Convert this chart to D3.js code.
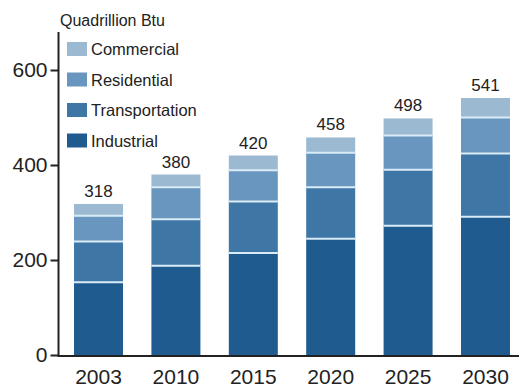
<!DOCTYPE html>
<html lang="en">
<head>
<meta charset="UTF-8">
<title>World energy consumption by sector</title>
<script src="https://d3js.org/d3.v7.min.js"></script>
<style>
  html, body { margin: 0; padding: 0; background: #fff; }
  svg { display: block; font-family: 'Liberation Sans', Arial, sans-serif; }
</style>
</head>
<body>
<div id="chart"></div>
<script>
// --- Data ---
const years = ["2003", "2010", "2015", "2020", "2025", "2030"];
const sectors = ["Industrial", "Transportation", "Residential", "Commercial"];
const industrial     = [153, 188, 215, 245, 272, 291];
const transportation = [86, 98, 108, 108, 118, 133];
const residential    = [54, 67, 66, 73, 72, 76];
const commercial     = [25, 27, 31, 32, 36, 41];
const totals = [318, 380, 420, 458, 498, 541];
const yTicks = [0, 200, 400, 600];

const colors = {
  Industrial: "#1f5b8f",
  Transportation: "#3e76a6",
  Residential: "#6896bf",
  Commercial: "#9cb9d2"
};

const rows = years.map((y, i) => ({
  year: y,
  Industrial: industrial[i],
  Transportation: transportation[i],
  Residential: residential[i],
  Commercial: commercial[i],
  total: totals[i]
}));

const width = 519, height = 389;
const svg = d3.select("#chart").append("svg")
  .attr("width", width)
  .attr("height", height);

const x = d3.scaleBand()
  .domain(years)
  .range([58, 526])
  .paddingInner(0.367)
  .paddingOuter(0.207);

const y = d3.scaleLinear()
  .domain([0, 600])
  .range([355, 70]);

const stack = d3.stack().keys(sectors)(rows);

// bars
const layer = svg.append("g")
  .selectAll("g")
  .data(stack)
  .join("g")
  .attr("fill", d => colors[d.key]);

layer.selectAll("rect")
  .data(d => d)
  .join("rect")
  .attr("x", d => x(d.data.year))
  .attr("y", d => y(d[1]))
  .attr("width", x.bandwidth())
  .attr("height", d => y(d[0]) - y(d[1]));

// light separators between segments
svg.append("g")
  .selectAll("line")
  .data(stack.slice(0, 3).flat())
  .join("line")
  .attr("x1", d => x(d.data.year))
  .attr("x2", d => x(d.data.year) + x.bandwidth())
  .attr("y1", d => y(d[1]))
  .attr("y2", d => y(d[1]))
  .attr("stroke", "#d9ecf8")
  .attr("stroke-width", 2);

// total labels
svg.append("g")
  .selectAll("text")
  .data(rows)
  .join("text")
  .attr("x", d => x(d.year) + x.bandwidth() / 2)
  .attr("y", d => y(d.total) - 7)
  .attr("text-anchor", "middle")
  .attr("font-size", 17)
  .attr("fill", "#222")
  .text(d => d.total);

// y axis
const yAxis = svg.append("g")
  .attr("transform", "translate(58.5,0)")
  .call(d3.axisLeft(y).tickValues(yTicks).tickSize(8).tickPadding(3));
yAxis.select(".domain").remove();
yAxis.selectAll(".tick line").attr("stroke", "#222").attr("stroke-width", 2);
yAxis.selectAll(".tick text")
  .attr("font-size", 21)
  .attr("font-family", "'Liberation Sans', Arial, sans-serif")
  .attr("fill", "#222");

svg.append("line")
  .attr("x1", 58.5).attr("x2", 58.5)
  .attr("y1", 32).attr("y2", 356)
  .attr("stroke", "#222").attr("stroke-width", 2);

// x axis
const xAxis = svg.append("g")
  .attr("transform", "translate(0,356)")
  .call(d3.axisBottom(x).tickSize(0).tickPadding(13));
xAxis.select(".domain").remove();
xAxis.selectAll(".tick text")
  .attr("font-size", 21)
  .attr("font-family", "'Liberation Sans', Arial, sans-serif")
  .attr("fill", "#222");

svg.append("line")
  .attr("x1", 57.5).attr("x2", width)
  .attr("y1", 356).attr("y2", 356)
  .attr("stroke", "#222").attr("stroke-width", 2);

// unit title
svg.append("text")
  .attr("x", 60)
  .attr("y", 26)
  .attr("font-size", 16)
  .attr("fill", "#222")
  .text("Quadrillion Btu");

// legend
const legendOrder = ["Commercial", "Residential", "Transportation", "Industrial"];
const legend = svg.append("g")
  .selectAll("g")
  .data(legendOrder)
  .join("g")
  .attr("transform", (d, i) => `translate(67,${42 + i * 30.5})`);

legend.append("rect")
  .attr("width", 20)
  .attr("height", 14)
  .attr("fill", d => colors[d]);

legend.append("text")
  .attr("x", 24)
  .attr("y", 13)
  .attr("font-size", 16.5)
  .attr("fill", "#222")
  .text(d => d);
</script>
</body>
</html>
